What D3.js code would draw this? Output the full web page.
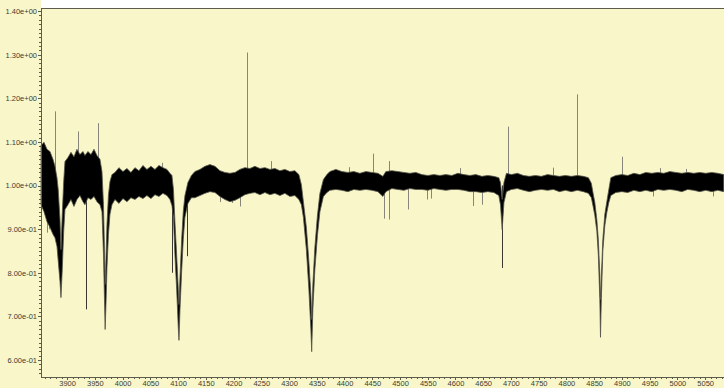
<!DOCTYPE html>
<html>
<head>
<meta charset="utf-8">
<script src="https://cdn.jsdelivr.net/npm/d3@7"></script>
<style>
  html, body { margin: 0; padding: 0; background: #f9f7c9; }
  svg { display: block; }
  .axis text { font-family: "Liberation Sans", Arial, sans-serif; font-size: 7.5px; fill: #3c3c34; }
  .axis path, .axis line { stroke: #5c5c4c; shape-rendering: crispEdges; }
</style>
</head>
<body>
<div class="canvas"></div>
<script>
const WIDTH = 724;
const HEIGHT = 388;
const margin = { top: 8, right: 0, bottom: 11, left: 41 };

// spectrum: wavelength, top and bottom of the noise band
const wave = [
  3853.0, 3858.4, 3863.8, 3869.2, 3874.6, 3878.2, 3881.8, 3884.1, 3887.2, 3889.0,
  3891.3, 3893.9, 3896.2, 3901.6, 3907.0, 3912.4, 3917.8, 3923.2, 3928.6, 3932.2,
  3937.6, 3943.1, 3948.5, 3953.9, 3959.3, 3962.9, 3965.6, 3967.4, 3968.6, 3970.1,
  3971.9, 3974.6, 3977.3, 3980.9, 3986.3, 3993.5, 4000.7, 4007.9, 4015.1, 4022.3,
  4029.5, 4036.7, 4043.9, 4051.2, 4058.4, 4065.6, 4072.8, 4080.0, 4085.4, 4089.0,
  4091.7, 4094.4, 4097.5, 4100.4, 4101.7, 4103.5, 4106.5, 4109.4, 4112.4, 4117.8,
  4124.1, 4130.4, 4139.4, 4148.5, 4157.5, 4166.5, 4175.5, 4184.5, 4193.5, 4202.5,
  4211.5, 4220.5, 4229.5, 4238.5, 4247.6, 4256.6, 4265.6, 4274.6, 4283.6, 4292.6,
  4301.6, 4310.6, 4317.8, 4322.3, 4325.9, 4331.3, 4335.8, 4339.4, 4340.9, 4343.0,
  4346.6, 4351.2, 4355.7, 4362.0, 4368.3, 4373.7, 4384.5, 4395.3, 4406.1, 4416.9,
  4427.7, 4438.5, 4449.4, 4460.2, 4469.2, 4474.6, 4485.4, 4496.2, 4507.0, 4517.8,
  4528.6, 4539.4, 4550.2, 4561.0, 4571.9, 4582.7, 4593.5, 4604.3, 4615.1, 4625.9,
  4636.7, 4647.5, 4658.3, 4669.1, 4678.1, 4681.1, 4684.2, 4687.4, 4691.9, 4700.9,
  4711.7, 4722.5, 4733.3, 4744.1, 4755.0, 4765.8, 4776.6, 4787.4, 4798.2, 4809.0,
  4819.8, 4830.6, 4839.6, 4844.9, 4848.1, 4851.2, 4854.8, 4857.5, 4860.2, 4861.4,
  4862.9, 4865.6, 4869.2, 4872.8, 4876.4, 4880.0, 4889.0, 4899.8, 4910.6, 4921.5,
  4932.3, 4943.1, 4953.9, 4964.7, 4975.5, 4986.3, 4997.1, 5007.9, 5018.7, 5029.5,
  5040.3, 5051.1, 5062.0, 5072.8, 5083.6
];
const fluxHigh = [
  1.092, 1.099, 1.083, 1.078, 1.060, 1.044, 1.018, 0.990, 0.922, 0.853,
  0.934, 1.009, 1.055, 1.064, 1.076, 1.066, 1.083, 1.071, 1.078, 1.069,
  1.078, 1.071, 1.083, 1.069, 1.060, 1.032, 0.956, 0.853, 0.773, 0.830,
  0.911, 0.979, 1.009, 1.025, 1.030, 1.041, 1.032, 1.039, 1.030, 1.041,
  1.034, 1.046, 1.037, 1.044, 1.037, 1.046, 1.041, 1.037, 1.028, 1.023,
  0.991, 0.917, 0.840, 0.762, 0.727, 0.789, 0.876, 0.940, 0.977, 1.007,
  1.023, 1.032, 1.037, 1.044, 1.048, 1.044, 1.034, 1.030, 1.028, 1.030,
  1.037, 1.041, 1.039, 1.044, 1.039, 1.041, 1.037, 1.039, 1.034, 1.037,
  1.032, 1.034, 1.025, 1.002, 0.963, 0.904, 0.826, 0.750, 0.693, 0.773,
  0.858, 0.931, 0.982, 1.014, 1.025, 1.032, 1.037, 1.032, 1.030, 1.032,
  1.028, 1.032, 1.030, 1.028, 1.021, 1.032, 1.034, 1.032, 1.030, 1.028,
  1.030, 1.025, 1.023, 1.025, 1.023, 1.025, 1.023, 1.028, 1.025, 1.023,
  1.025, 1.021, 1.023, 1.021, 1.018, 1.007, 0.968, 1.007, 1.028, 1.025,
  1.028, 1.023, 1.021, 1.023, 1.021, 1.025, 1.023, 1.021, 1.023, 1.021,
  1.023, 1.021, 1.018, 1.005, 0.982, 0.961, 0.922, 0.876, 0.796, 0.739,
  0.789, 0.876, 0.934, 0.963, 0.991, 1.018, 1.023, 1.025, 1.023, 1.028,
  1.025, 1.030, 1.028, 1.030, 1.028, 1.032, 1.030, 1.028, 1.030, 1.028,
  1.030, 1.028, 1.030, 1.028, 1.025
];
const fluxLow = [
  0.956, 0.940, 0.917, 0.904, 0.888, 0.880, 0.860, 0.826, 0.780, 0.743,
  0.807, 0.895, 0.945, 0.956, 0.968, 0.952, 0.968, 0.977, 0.963, 0.956,
  0.972, 0.968, 0.975, 0.963, 0.956, 0.940, 0.842, 0.739, 0.670, 0.727,
  0.812, 0.888, 0.934, 0.956, 0.968, 0.959, 0.970, 0.963, 0.972, 0.968,
  0.975, 0.970, 0.977, 0.970, 0.979, 0.975, 0.982, 0.977, 0.968, 0.954,
  0.927, 0.840, 0.762, 0.674, 0.645, 0.716, 0.803, 0.876, 0.927, 0.959,
  0.972, 0.972, 0.977, 0.982, 0.986, 0.984, 0.975, 0.968, 0.963, 0.966,
  0.972, 0.979, 0.982, 0.984, 0.979, 0.984, 0.979, 0.982, 0.977, 0.982,
  0.975, 0.977, 0.968, 0.956, 0.927, 0.853, 0.762, 0.670, 0.619, 0.716,
  0.807, 0.885, 0.940, 0.975, 0.984, 0.989, 0.991, 0.989, 0.986, 0.991,
  0.989, 0.991, 0.989, 0.986, 0.975, 0.986, 0.993, 0.991, 0.989, 0.993,
  0.991, 0.991, 0.989, 0.993, 0.991, 0.989, 0.991, 0.991, 0.989, 0.986,
  0.986, 0.984, 0.986, 0.984, 0.977, 0.956, 0.899, 0.961, 0.986, 0.991,
  0.993, 0.989, 0.986, 0.989, 0.991, 0.989, 0.991, 0.986, 0.989, 0.986,
  0.989, 0.986, 0.982, 0.972, 0.952, 0.931, 0.895, 0.840, 0.739, 0.652,
  0.739, 0.849, 0.908, 0.938, 0.961, 0.977, 0.984, 0.986, 0.984, 0.989,
  0.986, 0.989, 0.986, 0.991, 0.989, 0.991, 0.989, 0.986, 0.991, 0.989,
  0.986, 0.989, 0.986, 0.989, 0.986
];

// single-pixel spikes sticking out of the band
const spikeWave = [
  3878.2, 3920.2, 3955.1, 4223.6, 4266.8, 4450.6, 4480.5, 4693.9, 4775.0, 4818.2, 4900.8,
  4070.4, 4407.9, 4607.9, 4968.5, 5016.4,
  3863.0, 3867.5, 3933.5, 4088.5, 4115.5, 4175.5, 4196.6, 4211.5, 4471.5, 4480.0, 4514.8,
  4549.0, 4556.8, 4631.9, 4647.0, 4684.1, 4956.4, 5064.3
];
const spikeFlux = [
  1.170, 1.124, 1.143, 1.305, 1.056, 1.073, 1.056, 1.135, 1.041, 1.209, 1.066,
  1.052, 1.042, 1.040, 1.040, 1.038,
  0.892, 0.900, 0.716, 0.800, 0.838, 0.962, 0.960, 0.952, 0.924, 0.922, 0.945,
  0.968, 0.970, 0.953, 0.956, 0.811, 0.975, 0.975
];

const xTicks = [3900, 3950, 4000, 4050, 4100, 4150, 4200, 4250, 4300, 4350, 4400, 4450,
  4500, 4550, 4600, 4650, 4700, 4750, 4800, 4850, 4900, 4950, 5000, 5050];
const xTickLabels = ['3900', '3950', '4000', '4050', '4100', '4150', '4200', '4250', '4300',
  '4350', '4400', '4450', '4500', '4550', '4600', '4650', '4700', '4750', '4800', '4850',
  '4900', '4950', '5000', '5050'];
const yTicks = [0.6, 0.7, 0.8, 0.9, 1.0, 1.1, 1.2, 1.3, 1.4];
const yTickLabels = ['6.00e-01', '7.00e-01', '8.00e-01', '9.00e-01', '1.00e+00',
  '1.10e+00', '1.20e+00', '1.30e+00', '1.40e+00'];

const svg = d3.select('.canvas')
  .append('svg')
    .attr('width', WIDTH)
    .attr('height', HEIGHT);

svg.append('rect')
  .attr('width', WIDTH)
  .attr('height', HEIGHT)
  .attr('fill', '#f9f7c9');

// white strip above the frame
svg.append('rect')
  .attr('x', margin.left)
  .attr('width', WIDTH - margin.left)
  .attr('height', margin.top)
  .attr('fill', '#ffffff');

const x = d3.scaleLinear()
  .domain([3853, 5084])
  .range([margin.left, WIDTH - margin.right]);

const y = d3.scaleLinear()
  .domain([0.561, 1.407])
  .range([HEIGHT - margin.bottom, margin.top]);

const data = wave.map((w, i) => ({ w, hi: fluxHigh[i], lo: fluxLow[i] }));
const spikes = spikeWave.map((w, i) => ({ w, f: spikeFlux[i] }));

const plot = svg.append('g');

// spikes go under the band
plot.selectAll('line.spike')
  .data(spikes)
  .enter()
  .append('line')
    .attr('class', 'spike')
    .attr('x1', d => Math.round(x(d.w)) + 0.5)
    .attr('x2', d => Math.round(x(d.w)) + 0.5)
    .attr('y1', y(1.0))
    .attr('y2', d => y(d.f))
    .attr('stroke', d => (d.f < 0.85 ? '#3a3a32' : '#86867a'))
    .attr('stroke-width', 1);

const band = d3.area()
  .x(d => x(d.w))
  .y0(d => y(d.lo))
  .y1(d => y(d.hi));

plot.append('path')
  .datum(data)
  .attr('d', band)
  .attr('fill', '#000000')
  .attr('stroke', '#55554a')
  .attr('stroke-width', 0.8)
  .attr('stroke-linejoin', 'round');

// axes
const xAxisGroup = svg.append('g')
  .attr('class', 'axis')
  .attr('transform', `translate(0,${HEIGHT - margin.bottom})`);
const xMinorGroup = svg.append('g')
  .attr('class', 'axis')
  .attr('transform', `translate(0,${HEIGHT - margin.bottom})`);
const yAxisGroup = svg.append('g')
  .attr('class', 'axis')
  .attr('transform', `translate(${margin.left},0)`);
const yMinorGroup = svg.append('g')
  .attr('class', 'axis')
  .attr('transform', `translate(${margin.left},0)`);

xAxisGroup.call(d3.axisBottom(x)
  .tickValues(xTicks)
  .tickFormat((d, i) => xTickLabels[i])
  .tickSizeInner(3)
  .tickSizeOuter(0)
  .tickPadding(1));

xMinorGroup.call(d3.axisBottom(x)
  .tickValues(d3.range(3860, 5084, 10))
  .tickFormat('')
  .tickSizeInner(2)
  .tickSizeOuter(0));

yAxisGroup.call(d3.axisLeft(y)
  .tickValues(yTicks)
  .tickFormat((d, i) => yTickLabels[i])
  .tickSizeInner(3)
  .tickSizeOuter(0)
  .tickPadding(1));

yMinorGroup.call(d3.axisLeft(y)
  .tickValues(d3.range(0.57, 1.405, 0.01))
  .tickFormat('')
  .tickSizeInner(2)
  .tickSizeOuter(0));

// top frame line
svg.append('line')
  .attr('x1', margin.left)
  .attr('x2', WIDTH)
  .attr('y1', margin.top + 0.5)
  .attr('y2', margin.top + 0.5)
  .attr('stroke', '#5c5c4c')
  .attr('stroke-width', 1.2);
</script>
</body>
</html>
